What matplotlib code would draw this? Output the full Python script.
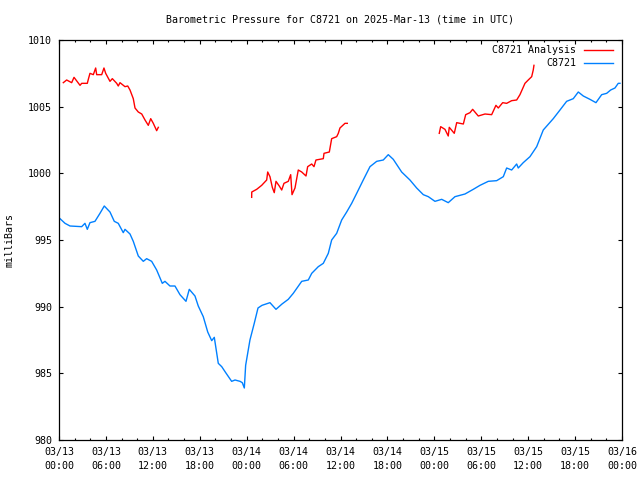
import numpy as np
import matplotlib
matplotlib.use("Agg")
import matplotlib.pyplot as plt
import matplotlib.dates as mdates

# ---- data (hours after 2025-03-13 00:00 UTC, pressure in mb) ----
obs_hours = [0.13, 0.77, 1.41, 2.9, 3.32, 3.62, 3.96, 4.6, 5.24, 5.79, 6.52, 7.07, 7.58,
             8.22, 8.44, 9.08, 9.5, 10.14, 10.78, 11.21, 11.85, 12.49, 13.21, 13.55, 14.19,
             14.83, 15.47, 16.24, 16.66, 17.39, 17.81, 18.45, 19.02, 19.53, 19.86, 20.37,
             20.81, 21.32, 22.08, 22.51, 23.15, 23.44, 23.7, 23.87, 24.42, 24.97, 25.45,
             25.96, 26.98, 27.75, 28.52, 29.32, 29.96, 31.04, 31.88, 32.32, 33.16, 33.8,
             34.44, 34.87, 35.51, 36.15, 36.79, 37.43, 38.07, 38.91, 39.77, 40.63, 41.47,
             42.11, 42.75, 43.82, 44.88, 45.74, 46.59, 47.23, 48.08, 48.94, 49.78, 50.64,
             51.92, 52.98, 53.84, 54.9, 55.97, 56.82, 57.25, 57.89, 58.53, 58.73, 59.37,
             60.23, 61.09, 61.93, 63.21, 64.07, 64.92, 65.77, 66.41, 67.05, 67.9, 68.67,
             69.4, 70.04, 70.55, 71.1, 71.52, 71.74]
obs_values = [996.6, 996.25, 996.05, 996.0, 996.25, 995.8, 996.3, 996.4, 997.0, 997.55,
              997.1, 996.4, 996.25, 995.55, 995.8, 995.45, 994.9, 993.8, 993.4, 993.6,
              993.4, 992.75, 991.75, 991.9, 991.55, 991.55, 990.9, 990.4, 991.3, 990.8,
              990.05, 989.25, 988.1, 987.45, 987.7, 985.75, 985.5, 985.05, 984.4, 984.5,
              984.4, 984.3, 983.9, 985.6, 987.5, 988.75, 989.9, 990.1, 990.3, 989.8, 990.2,
              990.55, 991.0, 991.9, 992.0, 992.5, 993.0, 993.25, 994.0, 995.0, 995.5,
              996.5, 997.1, 997.75, 998.5, 999.5, 1000.5, 1000.9, 1001.0, 1001.4, 1001.05,
              1000.1, 999.5, 998.9, 998.4, 998.25, 997.9, 998.05, 997.8, 998.25, 998.45,
              998.8, 999.1, 999.4, 999.45, 999.75, 1000.4, 1000.25, 1000.7, 1000.4, 1000.8,
              1001.25, 1002.0, 1003.25, 1004.1, 1004.75, 1005.4, 1005.6, 1006.1, 1005.8,
              1005.55, 1005.3, 1005.9, 1006.0, 1006.25, 1006.4, 1006.75, 1006.75]

ana1_hours = [0.55, 0.98, 1.62, 1.92, 2.69, 2.9, 3.62, 3.75, 3.96, 4.39, 4.69, 4.82, 5.46,
              5.75, 5.97, 6.52, 6.82, 7.38, 7.58, 7.8, 8.44, 8.79, 9.08, 9.5, 9.72, 10.14,
              10.58, 11.0, 11.42, 11.73, 12.06, 12.49, 12.7]
ana1_values = [1006.8, 1007.0, 1006.8, 1007.2, 1006.6, 1006.75, 1006.75, 1007.05, 1007.5,
               1007.4, 1007.9, 1007.4, 1007.4, 1007.9, 1007.5, 1006.9, 1007.1, 1006.75,
               1006.55, 1006.8, 1006.5, 1006.55, 1006.25, 1005.6, 1004.9, 1004.6, 1004.45,
               1004.0, 1003.6, 1004.1, 1003.75, 1003.2, 1003.45]

ana2_hours = [24.64, 24.65, 25.28, 25.92, 26.56, 26.69, 26.98, 27.28, 27.53, 27.75, 28.17,
              28.48, 28.77, 29.32, 29.63, 29.8, 30.18, 30.6, 31.04, 31.59, 31.8, 32.32,
              32.61, 32.86, 33.8, 33.89, 34.57, 34.87, 35.51, 35.72, 35.93, 36.57, 36.87]
ana2_values = [998.2, 998.6, 998.8, 999.1, 999.5, 1000.1, 999.75, 998.95, 998.55, 999.4,
               999.05, 998.75, 999.25, 999.4, 999.9, 998.4, 998.9, 1000.25, 1000.1, 999.8,
               1000.5, 1000.7, 1000.5, 1001.0, 1001.1, 1001.5, 1001.6, 1002.6, 1002.75,
               1003.0, 1003.4, 1003.75, 1003.75]

ana3_hours = [48.63, 48.81, 49.36, 49.78, 49.91, 50.55, 50.86, 51.28, 51.71, 52.01, 52.56,
              52.9, 53.62, 54.48, 55.33, 55.88, 56.18, 56.74, 57.25, 57.89, 58.53, 58.95,
              59.59, 60.01, 60.45, 60.65, 60.74]
ana3_values = [1003.0, 1003.5, 1003.3, 1002.8, 1003.45, 1003.0, 1003.8, 1003.75, 1003.7,
               1004.4, 1004.55, 1004.8, 1004.3, 1004.45, 1004.4, 1005.1, 1004.9, 1005.3,
               1005.25, 1005.45, 1005.5, 1005.9, 1006.75, 1007.0, 1007.25, 1007.75, 1008.1]

start = np.datetime64("2025-03-13T00:00")
end = np.datetime64("2025-03-16T00:00")

def to_time(hours):
    return start + (np.asarray(hours) * 3600).astype("timedelta64[s]")

FONT = "DejaVu Sans Mono"
FS = 7.2
plt.rcParams["font.family"] = FONT

fig = plt.figure(figsize=(6.4, 4.8), dpi=100)
ax = fig.add_axes([59 / 640, 40 / 480, 563 / 640, 400 / 480])

red = "#ff0000"
blue = "#0080ff"

for i, (h, v) in enumerate([(ana1_hours, ana1_values), (ana2_hours, ana2_values),
                            (ana3_hours, ana3_values)]):
    ax.plot(to_time(h), v, color=red, lw=1.0,
            label="C8721 Analysis" if i == 0 else None)
ax.plot(to_time(obs_hours), obs_values, color=blue, lw=1.0, label="C8721")

ax.set_xlim(start, end)
ax.set_ylim(980, 1010)
ax.set_yticks(np.arange(980, 1011, 5))

ax.xaxis.set_major_locator(mdates.HourLocator(byhour=[0, 6, 12, 18]))
ax.xaxis.set_minor_locator(mdates.HourLocator(interval=2))
ax.xaxis.set_major_formatter(mdates.DateFormatter("%m/%d\n%H:%M"))

ax.tick_params(axis="both", which="major", direction="in", length=3.2, width=0.8,
               top=True, right=True, labelsize=FS, pad=5, colors="black")
ax.tick_params(axis="x", which="minor", direction="in", length=1.6, width=0.8,
               top=True, bottom=True)
for sp in ax.spines.values():
    sp.set_linewidth(0.9)
    sp.set_color("black")

fig.canvas.draw()
for lab in ax.get_xticklabels():
    lab.set_linespacing(1.45)

fig.text(340.5 / 640, 1 - 20 / 480, "Barometric Pressure for C8721 on 2025-Mar-13 (time in UTC)",
         ha="center", va="center", fontsize=FS)
fig.text(10 / 640, 0.5, "milliBars", rotation=90, ha="center", va="center", fontsize=FS)

leg = ax.legend(loc="upper right", bbox_to_anchor=(613 / 640, 1 - 45 / 480),
                bbox_transform=fig.transFigure, frameon=False, markerfirst=False,
                fontsize=FS, handlelength=2.9, handletextpad=0.8, labelspacing=0.35,
                borderpad=0, borderaxespad=0)

fig.savefig("out.png", dpi=100)
